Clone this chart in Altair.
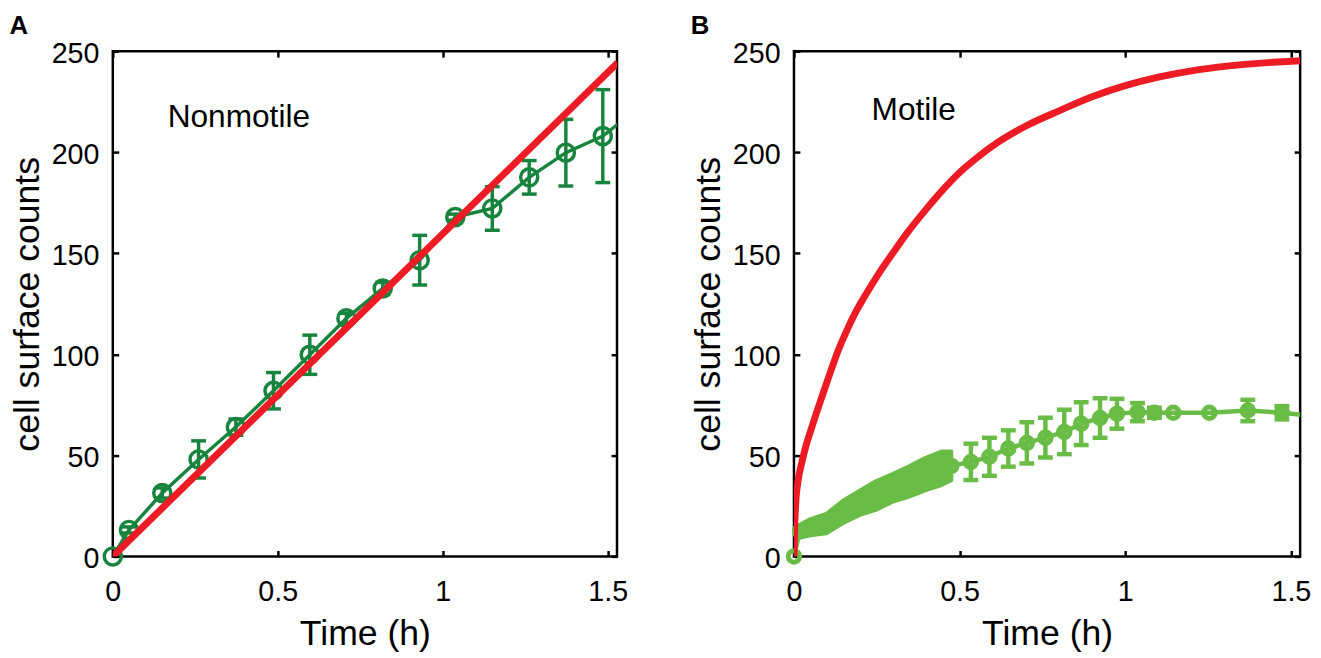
import altair as alt
import pandas as pd

# ---------------- values ----------------
# Panel A (Nonmotile): measured counts, dark green (time h, mean, error half-width)
tA = [0, 0.049, 0.150, 0.260, 0.373, 0.487, 0.597, 0.708, 0.818, 0.930, 1.038, 1.150, 1.262, 1.373, 1.485, 1.597]
mA = [0, 13.1, 31.4, 48.0, 64.0, 82.0, 99.8, 117.8, 132.6, 146.6, 167.9, 172.2, 187.6, 199.8, 208.0, 222.5]
eA = [0, 1.5, 2.5, 9.2, 4.0, 9.0, 9.7, 2.5, 3.0, 12.3, 1.5, 10.8, 8.3, 16.5, 23.0, 20.0]
# Panel A: model (red line)
rA_t = [0, 1.53]
rA_y = [0, 244.3]

# Panel B (Motile): measured counts, light green (dense early part, then sparse)
tB = [0, 0.018, 0.050, 0.0975, 0.147, 0.197, 0.247, 0.296, 0.346, 0.396, 0.445, 0.475,
      0.534, 0.590, 0.647, 0.703, 0.759, 0.816, 0.867, 0.924, 0.975, 1.037, 1.088, 1.145,
      1.254, 1.370, 1.473, 1.576]
mB = [0, 12.5, 14.5, 16.2, 21.9, 26.4, 30.1, 33.8, 37.0, 40.7, 43.6, 44.8,
      46.8, 49.3, 53.4, 56.2, 58.8, 61.6, 65.7, 68.5, 70.6, 71.4, 71.1, 71.1,
      71.1, 72.2, 71.1, 69.3]
eB = [0, 3.2, 4.0, 4.8, 5.5, 6.0, 7.1, 6.8, 7.5, 8.0, 8.3, 7.1,
      9.0, 9.4, 9.0, 10.2, 9.8, 11.0, 10.6, 9.8, 7.4, 4.5, 2.5, 0,
      0, 5.3, 3.3, 0]
# Panel B: model (red curve)
rB_t = [0, 0.002, 0.006, 0.012, 0.023, 0.035, 0.053, 0.075, 0.1, 0.133, 0.16, 0.185, 0.22, 0.256,
        0.3, 0.339, 0.4, 0.45, 0.5, 0.55, 0.616, 0.7, 0.8, 0.9, 1.0, 1.1, 1.2, 1.3, 1.4, 1.528]
rB_y = [0, 14, 28, 37, 46, 54, 63.5, 74.5, 86.5, 101.7, 112, 120.5, 130.5, 140,
        150.5, 159.5, 172, 181.5, 190, 197, 205, 213, 220.5, 227.5, 233, 237.2, 240.3, 242.5, 244, 245.3]

x_ticks = [0, 0.5, 1, 1.5]
y_ticks = [0, 50, 100, 150, 200, 250]
x_domain = [0, 1.528]
y_domain = [0, 250]
x_title = "Time (h)"
y_title = "cell surface counts"
panel_letters = ["A", "B"]
annotations = ["Nonmotile", "Motile"]
dense_end = 0.5  # time before which panel B's samples are dense

# ---------------- styling ----------------
FONT = "Liberation Sans"
GA = "#17843d"
GB = "#69bc45"
RED = "#ed1c24"
TS = 6      # inward tick length
TW = 2.5
LBL = 29
TTL = 36

xs = alt.Scale(domain=x_domain, nice=False, zero=False)
ys = alt.Scale(domain=y_domain, nice=False, zero=False)


def ax_common():
    return dict(offset=-TS, tickSize=TS, tickWidth=TW, tickColor="black",
                domain=False, grid=False)


def x_bottom():
    return alt.Axis(values=x_ticks, format="~g", orient="bottom", title=x_title,
                    labelFlush=False, labelFont=FONT, labelFontSize=LBL, labelColor="black",
                    labelPadding=45, labelBaseline="alphabetic",
                    titleFont=FONT, titleFontSize=TTL, titleFontWeight="normal",
                    titleColor="black", titleBaseline="alphabetic", titleY=95,
                    **ax_common())


def x_top():
    return alt.Axis(values=x_ticks, orient="top", labels=False, title=None, **ax_common())


def y_left():
    return alt.Axis(values=y_ticks, orient="left", title=y_title,
                    labelFlush=False, labelFont=FONT, labelFontSize=LBL, labelColor="black",
                    labelPadding=14, labelOffset=2,
                    titleFont=FONT, titleFontSize=TTL, titleFontWeight="normal",
                    titleColor="black", titleBaseline="alphabetic", titleX=-81.5,
                    **ax_common())


def y_right():
    return alt.Axis(values=y_ticks, orient="right", labels=False, title=None, **ax_common())


def panel(t, m, e, rt, ry, color, line_w, pt_size, pt_sw, cap_w, letter, ann, ann_x, ann_y,
          width, dense=False):
    df = pd.DataFrame({"t": t, "m": m, "e": e})
    red = pd.DataFrame({"t": rt, "y": ry})
    xmax = x_domain[1]
    base = alt.Chart(df).transform_calculate(lo="datum.m - datum.e", hi="datum.m + datum.e")

    line = alt.Chart(df).mark_line(color=color, strokeWidth=line_w, clip=True).encode(
        x=alt.X("t:Q", scale=xs, axis=x_bottom()),
        y=alt.Y("m:Q", scale=ys, axis=y_left()),
        order="t:Q",
    )
    bar_filter = f"datum.t <= {xmax} && datum.e > 0"
    if dense:
        bar_filter += f" && datum.t >= {dense_end}"
    bars = base.transform_filter(bar_filter).mark_rule(color=color, strokeWidth=line_w).encode(
        x=alt.X("t:Q", scale=xs, axis=x_top()),
        y=alt.Y("lo:Q", scale=ys, axis=y_right()),
        y2="hi:Q",
    )
    caps = base.transform_filter(bar_filter).transform_fold(["lo", "hi"], as_=["k", "v"]).mark_tick(
        color=color, thickness=line_w, size=cap_w, orient="horizontal", opacity=1).encode(
        x=alt.X("t:Q", scale=xs, axis=None),
        y=alt.Y("v:Q", scale=ys, axis=None),
    )
    pts = alt.Chart(df).transform_filter(f"datum.t <= {xmax}").mark_point(
        shape="circle", filled=False, size=pt_size, strokeWidth=pt_sw, color=color, opacity=1).encode(
        x=alt.X("t:Q", scale=xs, axis=None),
        y=alt.Y("m:Q", scale=ys, axis=None),
    )
    layers = [line]
    if dense:
        band = base.transform_filter(f"datum.t > 0 && datum.t < {dense_end}").mark_area(
            color=color, opacity=1, stroke=color, strokeWidth=4, strokeJoin="round").encode(
            x=alt.X("t:Q", scale=xs, axis=None),
            y=alt.Y("lo:Q", scale=ys, axis=None),
            y2="hi:Q",
        )
        layers.append(band)
    layers += [bars, caps, pts]
    redline = alt.Chart(red).mark_line(color=RED, strokeWidth=7, clip=True,
                                       interpolate="monotone").encode(
        x=alt.X("t:Q", scale=xs, axis=None),
        y=alt.Y("y:Q", scale=ys, axis=None),
    )
    text = alt.Chart(pd.DataFrame({"label": [ann]})).mark_text(
        align="left", baseline="alphabetic", font=FONT, fontSize=32, color="black").encode(
        x=alt.value(ann_x), y=alt.value(ann_y), text="label:N")
    layers += [redline, text]
    return alt.layer(*layers).resolve_axis(x="independent", y="independent").properties(
        width=width, height=511,
        title=alt.TitleParams(letter, anchor="start", frame="bounds", font=FONT, fontSize=26,
                              fontWeight="bold", color="black", offset=0),
    )


pA = panel(tA, mA, eA, rA_t, rA_y, GA, 3.5, 300, 3.5, 15, panel_letters[0], annotations[0],
           55.5, 77, 510)
pB = panel(tB, mB, eB, rB_t, rB_y, GB, 4.5, 135, 5, 15, panel_letters[1], annotations[1],
           78.5, 70, 512, dense=True)

chart = alt.hconcat(pA, pB, spacing=60).properties(padding=0, background="white").configure_view(
    stroke="black", strokeWidth=2.5)

chart.save("out.html", embed_options={"renderer": "svg", "actions": False})
